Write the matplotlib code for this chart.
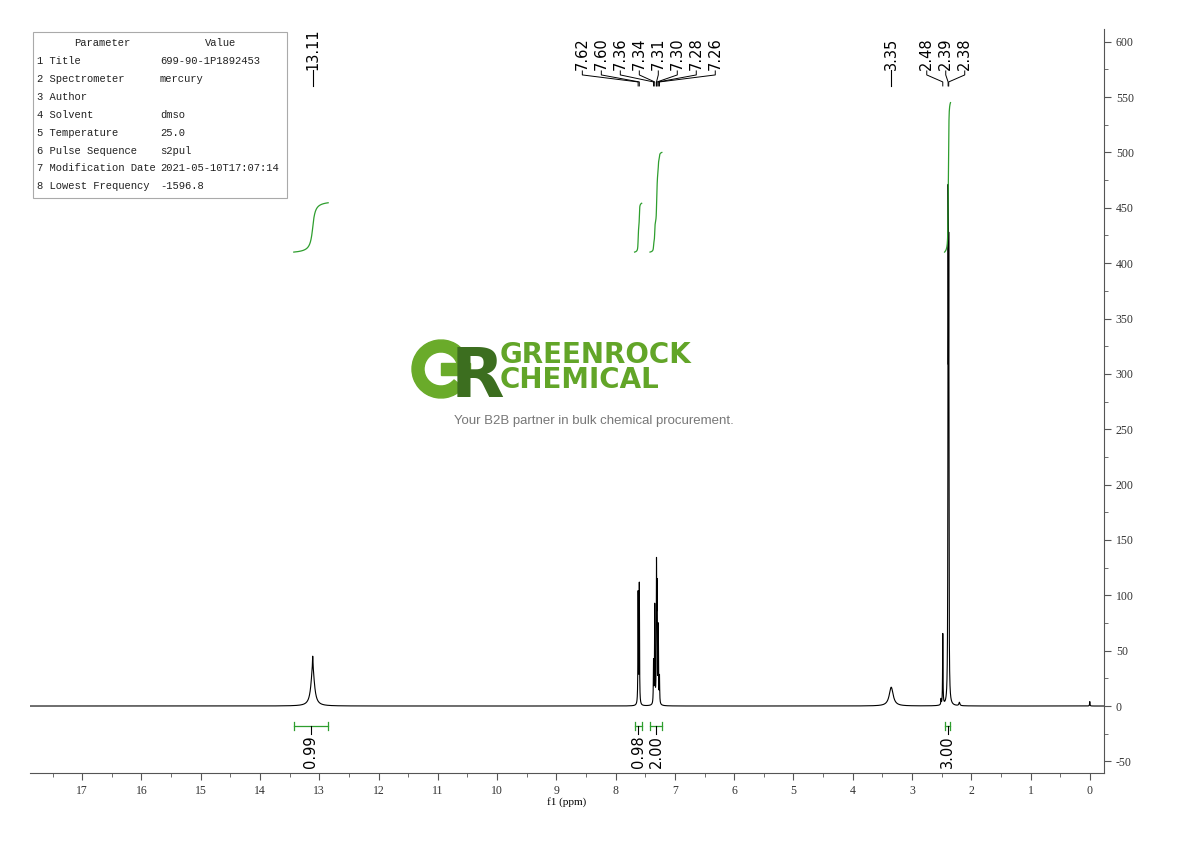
import numpy as np
import matplotlib
matplotlib.use("Agg")
import matplotlib.pyplot as plt
from matplotlib.ticker import MultipleLocator
from matplotlib.patches import Rectangle, Wedge

plt.rcParams['axes.unicode_minus'] = False

# ---- peak list (ppm, height, half-width in ppm) ----
peak_ppm = [13.11, 13.11, 7.62, 7.60, 7.36, 7.34, 7.31, 7.30, 7.28, 7.26,
            3.35, 2.51, 2.48, 2.39, 2.38, 2.20, 0.00]
peak_height = [34, 11, 100, 108, 38, 88, 118, 95, 68, 24,
               17, 5, 64, 420, 370, 3, 4]
peak_width = [0.035, 0.005, 0.004, 0.004, 0.004, 0.004, 0.004, 0.004, 0.004, 0.004,
              0.04, 0.004, 0.004, 0.004, 0.004, 0.01, 0.004]

# ---- peak labels (top) ----
label_groups = [[13.11], [7.62, 7.60, 7.36, 7.34, 7.31, 7.30, 7.28, 7.26],
                [3.35], [2.48, 2.39, 2.38]]

# ---- integrals (ppm from, ppm to, value) ----
integ_from = [13.43, 7.68, 7.42, 2.45]
integ_to = [12.85, 7.56, 7.22, 2.35]
integ_value = [0.99, 0.98, 2.00, 3.00]

# ---- parameter table ----
param_names = ["1 Title", "2 Spectrometer", "3 Author", "4 Solvent", "5 Temperature",
               "6 Pulse Sequence", "7 Modification Date", "8 Lowest Frequency"]
param_values = ["699-90-1P1892453", "mercury", "", "dmso", "25.0",
                "s2pul", "2021-05-10T17:07:14", "-1596.8"]

W, H = 1190, 841
fig = plt.figure(figsize=(W / 100, H / 100), dpi=100)
ax = fig.add_axes([30 / W, 1 - 773 / H, (1104 - 30) / W, (773 - 29) / H])

x = np.arange(17.88, -0.24, -0.0005)
y = np.zeros_like(x)
for p, h, w in zip(peak_ppm, peak_height, peak_width):
    y += h * w ** 2 / ((x - p) ** 2 + w ** 2)

ax.plot(x, y, color='black', lw=0.8)
ax.set_xlim(17.88, -0.24)
ax.set_ylim(-60.5, 611.5)

# y value for a pixel row (annotation placement only)
def yv(px):
    return (706 - px) / 1.107

green = '#2e9e2e'
ppm_per_px = 1 / 59.3

# integral curves and brackets
for a, b, v in zip(integ_from, integ_to, integ_value):
    m = (x <= a) & (x >= b)
    c = np.cumsum(y[m])
    c = (c - c[0]) / (c[-1] - c[0])
    ax.plot(x[m], 410 + 45 * v * c, color=green, lw=0.9)
    ax.plot([a, b], [yv(726)] * 2, color=green, lw=0.9, clip_on=False)
    for e in (a, b):
        ax.plot([e, e], [yv(722), yv(730)], color=green, lw=0.9, clip_on=False)
    mid = (a + b) / 2
    ax.plot([mid, mid], [yv(726), yv(734)], color='black', lw=0.8, clip_on=False)
    ax.text(mid, yv(735), f"{v:.2f}", rotation=90, ha='center', va='top',
            fontsize=10.5, clip_on=False)

# peak labels
spacing = 19 * ppm_per_px
for grp in label_groups:
    n = len(grp)
    centre = (grp[0] + grp[-1]) / 2
    for i, p in enumerate(grp):
        lx = centre + (n - 1) / 2 * spacing - i * spacing
        ax.text(lx, yv(70), f"{p:.2f}", rotation=90, ha='center', va='bottom',
                fontsize=10.5, clip_on=False)
        if n == 1:
            ax.plot([p, p], [yv(70), yv(86)], color='black', lw=0.8, clip_on=False)
        else:
            ax.plot([lx, lx, p, p], [yv(71), yv(75), yv(82), yv(86)],
                    color='black', lw=0.7, clip_on=False)

# axes styling
for s in ('top', 'left'):
    ax.spines[s].set_visible(False)
for s in ('bottom', 'right'):
    ax.spines[s].set_color('#555555')
ax.yaxis.tick_right()
ax.xaxis.set_major_locator(MultipleLocator(1))
ax.xaxis.set_minor_locator(MultipleLocator(0.5))
ax.yaxis.set_major_locator(MultipleLocator(50))
ax.yaxis.set_minor_locator(MultipleLocator(25))
ax.tick_params(which='both', direction='out', colors='#555555',
               labelcolor='#333333', labelsize=8.5)
ax.tick_params(which='major', length=5)
ax.tick_params(which='minor', length=3)
ax.set_yticks(np.arange(-50, 601, 50))
for lab in ax.get_xticklabels() + ax.get_yticklabels():
    lab.set_fontfamily('Liberation Serif')
ax.set_xlabel("f1 (ppm)", fontsize=8, family='Liberation Serif', labelpad=0)

# parameter table
fig.patches.append(Rectangle((33 / W, 1 - 198 / H), 254 / W, 166 / H,
                             transform=fig.transFigure, fill=False,
                             edgecolor='#aaaaaa', lw=0.8))
tfont = dict(family='Liberation Mono', fontsize=7.6, color='#222222', va='center')
fig.text(102 / W, 1 - 43 / H, "Parameter", ha='center', **tfont)
fig.text(221 / W, 1 - 43 / H, "Value", ha='center', **tfont)
for i, (nm, vl) in enumerate(zip(param_names, param_values)):
    ry = 1 - (61 + i * 17.9) / H
    fig.text(37 / W, ry, nm, ha='left', **tfont)
    fig.text(160 / W, ry, vl, ha='left', **tfont)

# watermark logo, drawn in a pixel-scaled axes
lg = fig.add_axes([405 / W, 1 - 405 / H, 100 / W, 70 / H])
lg.set_xlim(405, 505)
lg.set_ylim(405, 335)
lg.axis('off')
lg.add_patch(Wedge((441, 369), 29, 40, 360, width=12, color='#6aab2a'))
lg.add_patch(Rectangle((441, 363), 29, 12, color='#6aab2a'))
lg.text(451, 397, "R", fontsize=50, fontweight='bold', color='#3c6e1f',
        family='DejaVu Sans', va='baseline')
fig.text(500 / W, 1 - 388 / H, "GREENROCK\nCHEMICAL", fontsize=20, fontweight='bold',
         color='#62a528', family='DejaVu Sans', va='baseline', linespacing=0.85)
fig.text(594 / W, 1 - 421 / H, "Your B2B partner in bulk chemical procurement.",
         fontsize=9.5, color='#777777', family='Liberation Sans',
         ha='center', va='center')

fig.savefig("out.png", dpi=100)
